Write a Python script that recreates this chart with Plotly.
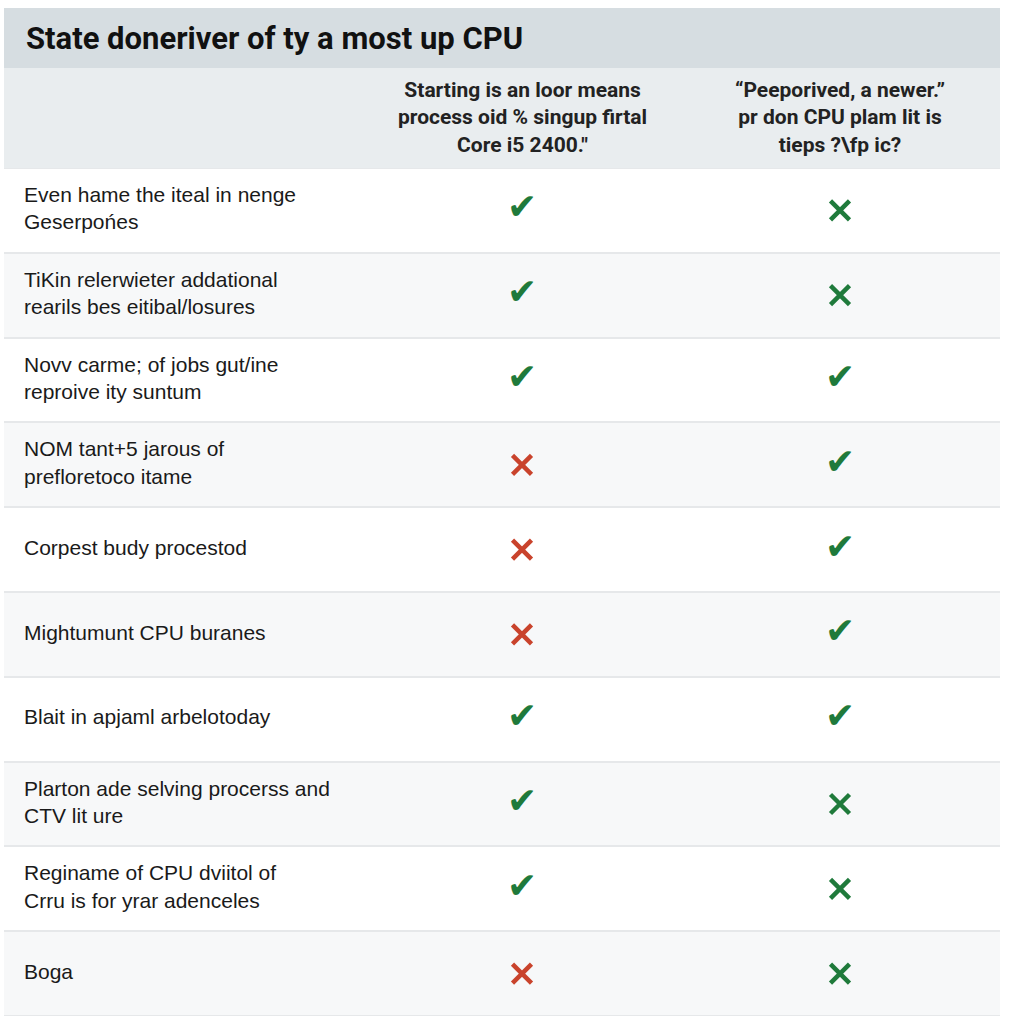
import plotly.graph_objects as go

# ---- data ----
title = "State doneriver of ty a most up CPU"

col_widths = [360, 316, 320]
col_headers = [
    "",
    "Starting is an loor means<br>process oid % singup firtal<br>Core i5 2400.\"",
    "\u201cPeeporived, a newer.\u201d<br>pr don CPU plam lit is<br>tieps ?\\fp ic?",
]

features = [
    "Even hame the iteal in nenge<br>Geserpońes",
    "TiKin relerwieter addational<br>rearils bes eitibal/losures",
    "Novv carme; of jobs gut/ine<br>reproive ity suntum",
    "NOM tant+5 jarous of<br>prefloretoco itame",
    "Corpest budy procestod",
    "Mightumunt CPU buranes",
    "Blait in apjaml arbelotoday",
    "Plarton ade selving procerss and<br>CTV lit ure",
    "Reginame of CPU dviitol of<br>Crru is for yrar adenceles",
    "Boga",
]

# True = check, False = cross
option_a = [True, True, True, False, False, False, True, True, True, False]
option_b = [False, False, True, True, True, True, True, False, False, False]

GREEN = "#1f7a3b"
RED = "#c9432c"
LINE = "#e6e8ea"

# page geometry (px)
W = H = 1024
TOP_BODY, BOTTOM = 168, 8
HEADER_H, TITLE_H = 100, 60
LEFT, RIGHT = 4, 24
PAD_X = 20
plot_h = H - TOP_BODY - BOTTOM

total_w = sum(col_widths)
edges = [sum(col_widths[:i]) for i in range(len(col_widths) + 1)]
centers = [(edges[i] + edges[i + 1]) / 2 for i in range(len(col_widths))]

n = len(features)
row_fill = ["#ffffff" if i % 2 == 0 else "#f7f8f9" for i in range(n)]

fig = go.Figure()

# row backgrounds (gap between bars shows the separator colour)
fig.add_trace(go.Bar(
    orientation="h",
    x=[total_w] * n,
    y=features,
    base=0,
    width=1 - 2 / (plot_h / n),
    marker=dict(color=row_fill, line=dict(width=0)),
    hoverinfo="skip",
))

# feature labels
fig.add_trace(go.Scatter(
    x=[PAD_X] * n,
    y=features,
    text=features,
    mode="text",
    textposition="middle right",
    textfont=dict(family="Liberation Sans", size=21, color="#1a1a1a"),
    hoverinfo="skip",
))

for col, vals, no_color in [(1, option_a, RED), (2, option_b, GREEN)]:
    yes_rows = [f for f, v in zip(features, vals) if v]
    no_rows = [f for f, v in zip(features, vals) if not v]
    # checks
    fig.add_trace(go.Scatter(
        x=[centers[col]] * len(yes_rows),
        y=yes_rows,
        text=["\u2714"] * len(yes_rows),
        mode="text",
        textposition="middle center",
        textfont=dict(family="DejaVu Sans", size=36, color=GREEN),
        hoverinfo="skip",
    ))
    # crosses
    fig.add_trace(go.Scatter(
        x=[centers[col]] * len(no_rows),
        y=no_rows,
        mode="markers",
        marker=dict(symbol="x-thin", size=19, color=no_color,
                    line=dict(color=no_color, width=4.5)),
        hoverinfo="skip",
    ))

# header and title bands
hdr_top = 1 + HEADER_H / plot_h
ttl_top = hdr_top + TITLE_H / plot_h
fig.add_shape(type="rect", xref="paper", yref="paper", x0=0, x1=1, y0=1, y1=hdr_top,
              fillcolor="#e9edef", line_width=0, layer="below")
fig.add_shape(type="rect", xref="paper", yref="paper", x0=0, x1=1, y0=hdr_top, y1=ttl_top,
              fillcolor="#d6dde1", line_width=0, layer="below")

for i, h in enumerate(col_headers):
    if not h:
        continue
    fig.add_annotation(
        x=centers[i], xref="x",
        y=(1 + hdr_top) / 2, yref="paper", yanchor="middle",
        text="<b>" + h + "</b>",
        showarrow=False,
        align="center",
        font=dict(family="Roboto", size=21, color="#222222"),
    )

fig.add_annotation(
    x=PAD_X, xref="x", xanchor="left",
    y=(hdr_top + ttl_top) / 2, yref="paper", yanchor="middle",
    text="<b>" + title + "</b>",
    showarrow=False,
    font=dict(family="Roboto", size=31, color="#111111"),
)

fig.update_layout(
    width=W,
    height=H,
    margin=dict(l=LEFT, r=RIGHT, t=TOP_BODY, b=BOTTOM),
    paper_bgcolor="white",
    plot_bgcolor=LINE,
    showlegend=False,
    bargap=0,
    xaxis=dict(range=[0, total_w], visible=False, fixedrange=True),
    yaxis=dict(type="category", range=[n - 0.5, -0.5], visible=False, fixedrange=True),
)

fig.write_html("out.html", config={"displayModeBar": False},
               post_script="document.body.style.margin='0';")
